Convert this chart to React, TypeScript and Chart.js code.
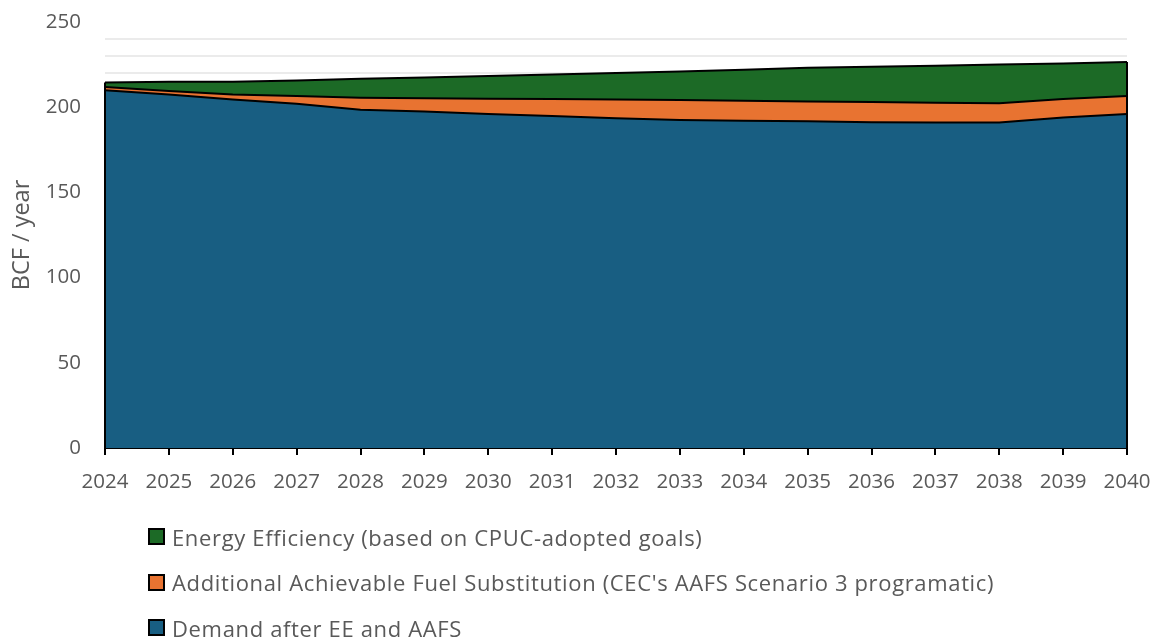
import React, { useEffect, useRef } from 'react';
import { Chart, registerables } from 'chart.js';

Chart.register(...registerables);

const years = ['2024', '2025', '2026', '2027', '2028', '2029', '2030', '2031', '2032', '2033', '2034', '2035', '2036', '2037', '2038', '2039', '2040'];
const demandAfterEEandAAFS = [210, 207.5, 204.5, 202, 198.5, 197.5, 196, 194.8, 193.5, 192.5, 192, 191.7, 191.2, 191, 191, 194, 196];
const fuelSubstitution = [1.8, 2, 3, 4.5, 7.1, 7.8, 9, 10, 11, 11.7, 11.8, 11.6, 11.8, 11.6, 11.3, 10.8, 10.6];
const energyEfficiency = [2.7, 5.5, 7.5, 9.2, 11.1, 12.2, 13.3, 14.4, 15.5, 16.8, 18.2, 19.9, 20.8, 21.7, 22.7, 20.9, 19.9];
const yTickLabels = [0, 50, 100, 150, 200, 250];

const seriesNames = [
  'Demand after EE and AAFS',
  "Additional Achievable Fuel Substitution (CEC's AAFS Scenario 3 programatic)",
  'Energy Efficiency (based on CPUC-adopted goals)',
];
const seriesColors = ['#185E82', '#E87331', '#1C6A26'];

const FONT = "'Open Sans', sans-serif";
const GRAY = '#595959';

const edgePlugin = {
  id: 'areaEdges',
  afterDatasetsDraw(chart: any) {
    const n = chart.data.datasets.length;
    const top = chart.getDatasetMeta(n - 1).data;
    const y0 = chart.scales.y.getPixelForValue(0);
    const ctx = chart.ctx;
    ctx.save();
    ctx.strokeStyle = '#000';
    ctx.lineWidth = 2;
    [0, top.length - 1].forEach((i) => {
      const p = top[i];
      ctx.beginPath();
      ctx.moveTo(p.x, p.y);
      ctx.lineTo(p.x, y0);
      ctx.stroke();
    });
    ctx.restore();
  },
};

export default function App() {
  const ref = useRef<HTMLCanvasElement>(null);

  useEffect(() => {
    document.body.style.margin = '0';
    const values = [demandAfterEEandAAFS, fuelSubstitution, energyEfficiency];
    const chart = new Chart(ref.current as HTMLCanvasElement, {
      type: 'line',
      data: {
        labels: years,
        datasets: values.map((v, i) => ({
          label: seriesNames[i],
          data: v,
          backgroundColor: seriesColors[i],
          borderColor: '#000',
          borderWidth: 2,
          fill: i === 0 ? 'origin' : '-1',
          pointRadius: 0,
          tension: 0,
        })),
      },
      options: {
        animation: false,
        responsive: false,
        maintainAspectRatio: false,
        layout: { padding: { left: 8, top: 22, right: 26, bottom: 150 } },
        plugins: { legend: { display: false }, tooltip: { enabled: false } },
        scales: {
          x: {
            type: 'category',
            offset: false,
            grid: { drawOnChartArea: false, drawTicks: true, tickLength: 7, color: '#000', lineWidth: 2 },
            border: { display: true, color: '#000', width: 2 },
            ticks: { color: GRAY, font: { family: FONT, size: 20.5 }, maxRotation: 0, autoSkip: false, padding: 15 },
            afterFit: (s: any) => {
              s.height = 41;
              s.paddingLeft = 0;
              s.paddingRight = 0;
            },
          },
          y: {
            stacked: true,
            min: 0,
            max: 250,
            grid: {
              drawTicks: false,
              color: (c: any) => (c.tick && c.tick.value > 0 && c.tick.value < 250 ? '#EBEBEB' : 'rgba(0,0,0,0)'),
              lineWidth: 2,
            },
            border: { display: false },
            ticks: {
              stepSize: 10,
              autoSkip: false,
              color: GRAY,
              font: { family: FONT, size: 20.5 },
              padding: 24,
              callback: (v: any) => (yTickLabels.includes(Number(v)) ? String(v) : ''),
            },
            title: { display: true, text: 'BCF / year', color: GRAY, font: { family: FONT, size: 23.5 }, padding: 0 },
            afterFit: (s: any) => {
              s.width = 97;
              s.paddingTop = 0;
              s.paddingBottom = 0;
            },
          },
        },
      },
      plugins: [edgePlugin],
    });
    return () => chart.destroy();
  }, []);

  const legendOrder = [2, 1, 0];
  return (
    <div style={{ position: 'relative', width: 1153, height: 639, overflow: 'hidden', fontFamily: FONT }}>
      <canvas ref={ref} width={1153} height={639} style={{ display: 'block' }} />
      <div style={{ position: 'absolute', left: 148, top: 514 }}>
        {legendOrder.map((i) => (
          <div key={i} style={{ display: 'flex', alignItems: 'center', height: 45.5, color: GRAY, fontSize: 22, letterSpacing: '0.65px', whiteSpace: 'nowrap' }}>
            <span style={{ display: 'inline-block', width: 13, height: 13, background: seriesColors[i], border: '2px solid #000', marginRight: 7 }} />
            <span>{seriesNames[i]}</span>
          </div>
        ))}
      </div>
    </div>
  );
}
